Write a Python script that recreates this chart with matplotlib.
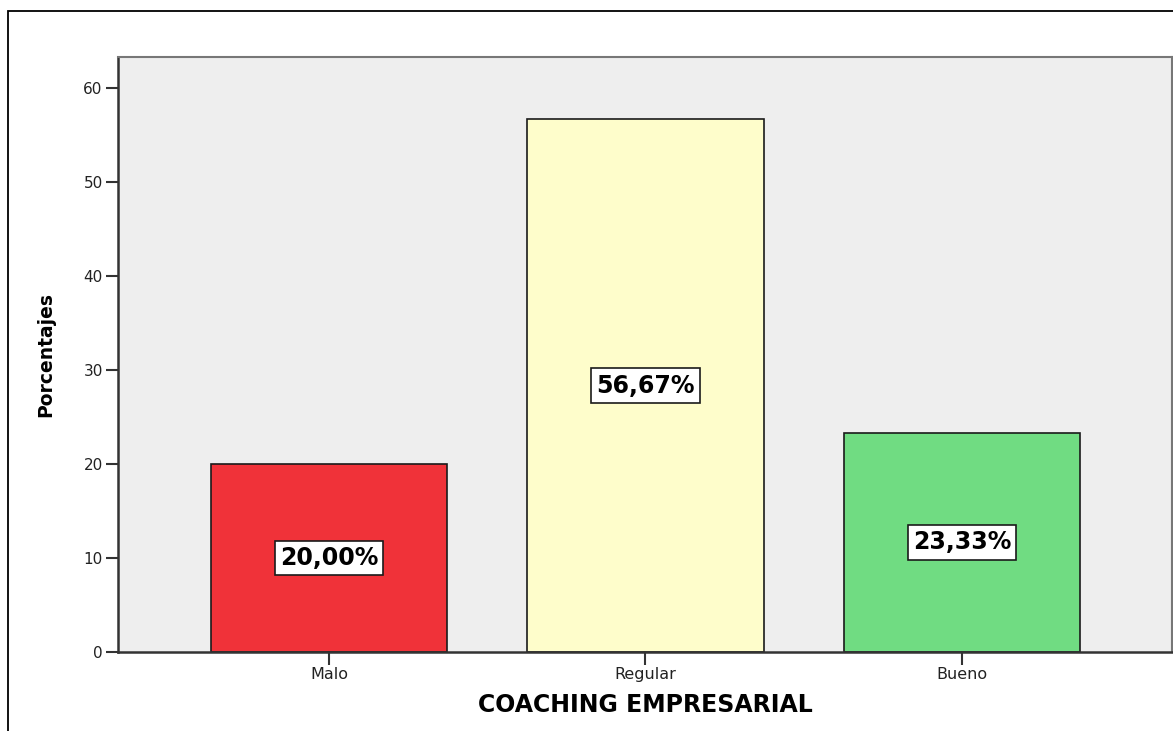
import matplotlib
matplotlib.use("Agg")
import matplotlib.pyplot as plt
from matplotlib.patches import Rectangle

categories = ["Malo", "Regular", "Bueno"]
values = [20.00, 56.67, 23.33]
labels = ["20,00%", "56,67%", "23,33%"]
colors = ["#F03239", "#FEFDCB", "#70DC82"]
yticks = [0, 10, 20, 30, 40, 50, 60]

fig = plt.figure(figsize=(11.73, 7.31), dpi=100)
ax = fig.add_axes([118/1173, (731-652)/731, (1172-118)/1173, (652-57)/731])
ax.set_facecolor("#EEEEEE")

x = list(range(len(categories)))
ax.bar(x, values, width=0.748, color=colors, edgecolor="#1a1a1a", linewidth=1.2, zorder=2)
for xi, v, lab in zip(x, values, labels):
    ax.text(xi, v/2, lab, ha="center", va="center", fontsize=17, fontweight="bold",
            family="DejaVu Sans", color="black", zorder=3,
            bbox=dict(boxstyle="square,pad=0.22", facecolor="white", edgecolor="#1a1a1a", linewidth=1.2))

ax.set_xlim(-0.667, 2.664)
ax.set_ylim(0, 63.3)
ax.set_xticks(x)
ax.set_xticklabels(categories, fontsize=11.5, family="DejaVu Sans", color="#222222")
ax.set_yticks(yticks)
ax.set_yticklabels([str(t) for t in yticks], fontsize=11, family="DejaVu Sans", color="#222222")
ax.tick_params(axis="both", length=9, width=1.5, color="#333333", pad=2)

for s in ["left", "bottom"]:
    ax.spines[s].set_linewidth(1.8)
    ax.spines[s].set_color("#333333")
for s in ["top", "right"]:
    ax.spines[s].set_linewidth(1.5)
    ax.spines[s].set_color("#777777")

ax.set_xlabel("COACHING EMPRESARIAL", fontsize=17, fontweight="bold", family="DejaVu Sans", labelpad=8)
ax.set_ylabel("Porcentajes", fontsize=13.5, fontweight="bold", family=["Liberation Sans Narrow", "DejaVu Sans"], labelpad=20)

border = Rectangle((8/1173, -0.1), 1.2, (731-11)/731 + 0.1, transform=fig.transFigure,
                   fill=False, edgecolor="black", linewidth=1.3, zorder=0)
fig.patches.append(border)

fig.savefig("out.png", dpi=100)
